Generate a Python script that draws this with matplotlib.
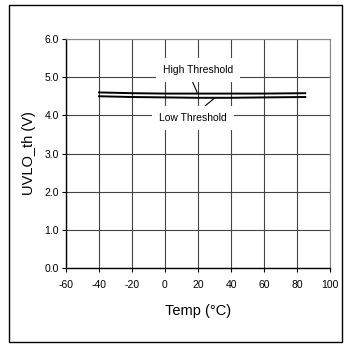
import numpy as np
import matplotlib.pyplot as plt
from matplotlib.patches import Rectangle

plt.rcParams['font.family'] = ['Liberation Sans', 'DejaVu Sans']

temp = [-40, -20, 0, 20, 40, 60, 85]
high_th = [4.60, 4.58, 4.57, 4.57, 4.57, 4.57, 4.58]
low_th = [4.50, 4.48, 4.47, 4.46, 4.46, 4.47, 4.48]

xticks = [-60, -40, -20, 0, 20, 40, 60, 80, 100]
yticks = [0.0, 1.0, 2.0, 3.0, 4.0, 5.0, 6.0]

fig = plt.figure(figsize=(3.45, 3.44), dpi=100)
fig.patches.append(Rectangle((9/345, 2/344), 333/345, 337/344, transform=fig.transFigure,
                             fill=False, edgecolor='black', linewidth=1.0))

ax = fig.add_axes([66/345, 76/344, 264/345, 229/344])
ax.set_xlim(-60, 100)
ax.set_ylim(0, 6)
ax.set_xticks(xticks)
ax.set_yticks(yticks)
ax.set_xticklabels([str(t) for t in xticks], fontsize=7.5)
ax.set_yticklabels(['%.1f' % t for t in yticks], fontsize=7.5)
ax.grid(True, color='#444444', linewidth=0.8)
ax.tick_params(axis='x', length=3, width=0.8, pad=6)
ax.tick_params(axis='y', length=3, width=0.8, pad=2)
for s in ['top', 'right']:
    ax.spines[s].set_color('#888888')
for s in ['left', 'bottom']:
    ax.spines[s].set_linewidth(1.0)

ax.plot(temp, high_th, color='black', linewidth=1.4)
ax.plot(temp, low_th, color='black', linewidth=1.4)

box = dict(facecolor='white', edgecolor='none', pad=5)
ax.annotate('High Threshold', xy=(19.5, 4.6), xytext=(20, 5.18), fontsize=7.5,
            ha='center', va='center', bbox=box,
            arrowprops=dict(arrowstyle='-', color='black', linewidth=0.8,
                            shrinkA=0, shrinkB=0, relpos=(0.38, 0.0)))
ax.annotate('Low Threshold', xy=(30, 4.45), xytext=(17, 3.93), fontsize=7.5,
            ha='center', va='center', bbox=box,
            arrowprops=dict(arrowstyle='-', color='black', linewidth=0.8,
                            shrinkA=0, shrinkB=0, relpos=(0.55, 1.0)))

ax.set_xlabel('Temp (°C)', fontsize=10.5, labelpad=10)
ax.set_ylabel('UVLO_th (V)', fontsize=10.5, labelpad=6)

fig.savefig('out.png', dpi=100)
